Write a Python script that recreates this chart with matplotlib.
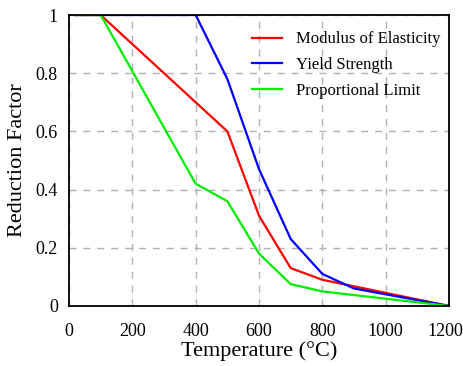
import matplotlib
matplotlib.use('Agg')
import matplotlib.pyplot as plt
import matplotlib.transforms as mtransforms

plt.rcParams['font.family'] = ['Liberation Serif', 'DejaVu Serif']

# 温度 (°C)
temp = [20, 100, 200, 300, 400, 500, 600, 700, 800, 900, 1000, 1100, 1200]
# 折减系数
k_E = [1, 1, 0.9, 0.8, 0.7, 0.6, 0.31, 0.13, 0.09, 0.0675, 0.045, 0.0225, 0]
k_y = [1, 1, 1, 1, 1, 0.78, 0.47, 0.23, 0.11, 0.06, 0.04, 0.02, 0]
k_p = [1, 1, 0.807, 0.613, 0.42, 0.36, 0.18, 0.075, 0.05, 0.0375, 0.025, 0.0125, 0]

fig = plt.figure(figsize=(4.63, 3.66), dpi=100)
ax = fig.add_axes([0.149, 0.164, 0.821, 0.795])

ax.plot(temp, k_E, color='#ff0000', lw=1.6, label='Modulus of Elasticity')
ax.plot(temp, k_y, color='#0000ff', lw=1.6, label='Yield Strength')
ax.plot(temp, k_p, color='#00ee00', lw=1.6, label='Proportional Limit')

ax.set_xlim(0, 1200)
ax.set_ylim(0, 1)
ax.set_xticks([0, 200, 400, 600, 800, 1000, 1200])
ax.set_yticks([0, 0.2, 0.4, 0.6, 0.8, 1])
ax.set_yticklabels(['0', '0.2', '0.4', '0.6', '0.8', '1'])
ax.tick_params(length=0, labelsize=13)
ax.tick_params(axis='x', pad=12)
ax.tick_params(axis='y', pad=8)
ax.grid(True, color='#b0b0b0', ls=(0, (5, 5)), lw=1)
for s in ax.spines.values():
    s.set_linewidth(1.3)

# 最后一个刻度标签稍微左移，免得被裁掉
last = ax.get_xticklabels()[-1]
last.set_transform(last.get_transform() +
                   mtransforms.ScaledTranslation(-4 / 100, 0, fig.dpi_scale_trans))

ax.set_xlabel('Temperature (°C)', fontsize=16, labelpad=1)
ax.set_ylabel('Reduction Factor', fontsize=16, labelpad=6)

ax.legend(loc='upper right', frameon=False, fontsize=12, handlelength=1.8,
          handletextpad=0.85, labelspacing=0.58, bbox_to_anchor=(1.016, 0.995))

fig.savefig('out.png', dpi=100)
